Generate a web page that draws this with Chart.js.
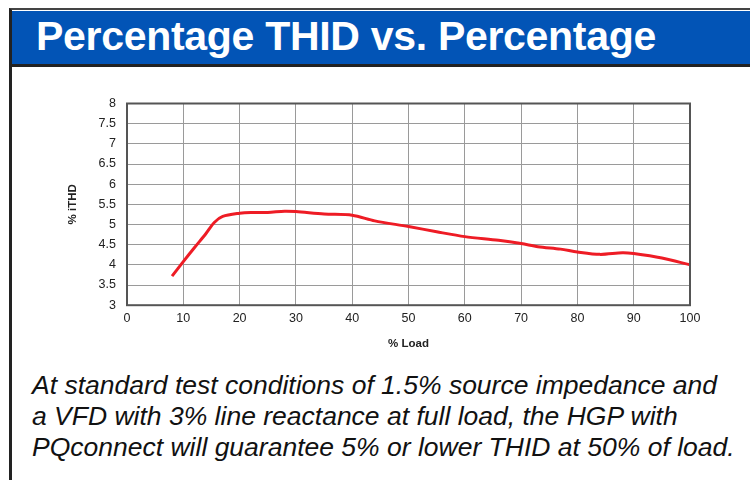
<!DOCTYPE html>
<html>
<head>
<meta charset="utf-8">
<script src="https://cdn.jsdelivr.net/npm/chart.js@4"></script>
<style>
  body { margin: 0; background: #fff; width: 750px; height: 480px; overflow: hidden; position: relative; font-family: "Liberation Sans", Arial, sans-serif; }
  #frame { position: absolute; left: 9px; top: 8px; width: 760px; height: 480px; border-left: 3px solid #222; border-top: 2px solid #444; }
  #header { position: absolute; left: 0; top: 1px; width: 760px; height: 53px; background: #0254b6; border-bottom: 3px solid #222; }
  #header h1 { margin: 0; position: absolute; left: 24px; top: 2px; color: #fff; font-size: 41px; font-weight: bold; letter-spacing: -0.3px; white-space: nowrap; }
  #wrap { position: absolute; left: 40px; top: 85px; width: 680px; height: 270px; }
  #caption { position: absolute; left: 32px; top: 370px; font-size: 26.5px; font-style: italic; line-height: 31px; color: #111; white-space: nowrap; }
</style>
</head>
<body>
<div id="frame"><div id="header"><h1>Percentage THID vs. Percentage</h1></div></div>
<div id="wrap"><canvas id="myChart" width="680" height="270"></canvas></div>
<div id="caption">At standard test conditions of 1.5% source impedance and<br>a VFD with 3% line reactance at full load, the HGP with<br>PQconnect will guarantee 5% or lower THID at 50% of load.</div>
<script>
var loadPct = [8, 10, 12, 14, 15.5, 17, 20, 22, 25, 28, 30, 35, 40, 44, 50, 55, 60, 66, 70, 73, 77, 80, 84, 88, 90, 95, 100];
var thdPct = [3.72, 4.08, 4.43, 4.77, 5.05, 5.20, 5.28, 5.30, 5.30, 5.33, 5.32, 5.26, 5.23, 5.09, 4.95, 4.82, 4.70, 4.61, 4.53, 4.45, 4.39, 4.32, 4.26, 4.30, 4.28, 4.17, 4.00];
var xTitle = "% Load";
var yTitle = "% iTHD";

function buildPoints() {
    var pts = [];
    loadPct.forEach(function (x, i) {
        pts.push({ x: x, y: thdPct[i] });
    });
    return pts;
}

// dark box round the plot area
var frameBox = {
    id: "frameBox",
    afterDraw: function (chart) {
        var a = chart.chartArea;
        var ctx = chart.ctx;
        ctx.save();
        ctx.strokeStyle = "#555";
        ctx.lineWidth = 2;
        ctx.strokeRect(a.left, a.top, a.right - a.left, a.bottom - a.top);
        ctx.restore();
    }
};

var tickFont = { family: "Liberation Sans, Arial, sans-serif", size: 12.5 };
var titleFont = { family: "Liberation Sans, Arial, sans-serif", size: 11.5, weight: "bold" };

var config = {
    type: "scatter",
    data: {
        datasets: [{
            data: buildPoints(),
            showLine: true,
            borderColor: "#ee1c25",
            borderWidth: 3,
            pointRadius: 0,
            tension: 0.3,
            fill: false
        }]
    },
    options: {
        responsive: false,
        animation: false,
        layout: { padding: { top: 14, right: 30, left: 22, bottom: 0 } },
        plugins: { legend: { display: false }, tooltip: { enabled: false } },
        scales: {
            x: {
                type: "linear", min: 0, max: 100,
                ticks: { stepSize: 10, color: "#222", font: tickFont, padding: 6, maxRotation: 0 },
                grid: { color: "#9a9a9a", lineWidth: 1, drawTicks: false },
                border: { display: false },
                title: { display: true, text: xTitle, color: "#222", font: titleFont, padding: { top: 5 } }
            },
            y: {
                min: 3, max: 8,
                ticks: {
                    stepSize: 0.5, color: "#222", font: tickFont, padding: 11,
                    callback: function (value) { return String(value); }
                },
                grid: { color: "#9a9a9a", lineWidth: 1, drawTicks: false },
                border: { display: false },
                title: { display: true, text: yTitle, color: "#222", font: titleFont },
                afterFit: function (scale) { scale.width = 65; }
            }
        }
    },
    plugins: [frameBox]
};

var ctx = document.getElementById("myChart").getContext("2d");
var myChart = new Chart(ctx, config);
</script>
</body>
</html>
